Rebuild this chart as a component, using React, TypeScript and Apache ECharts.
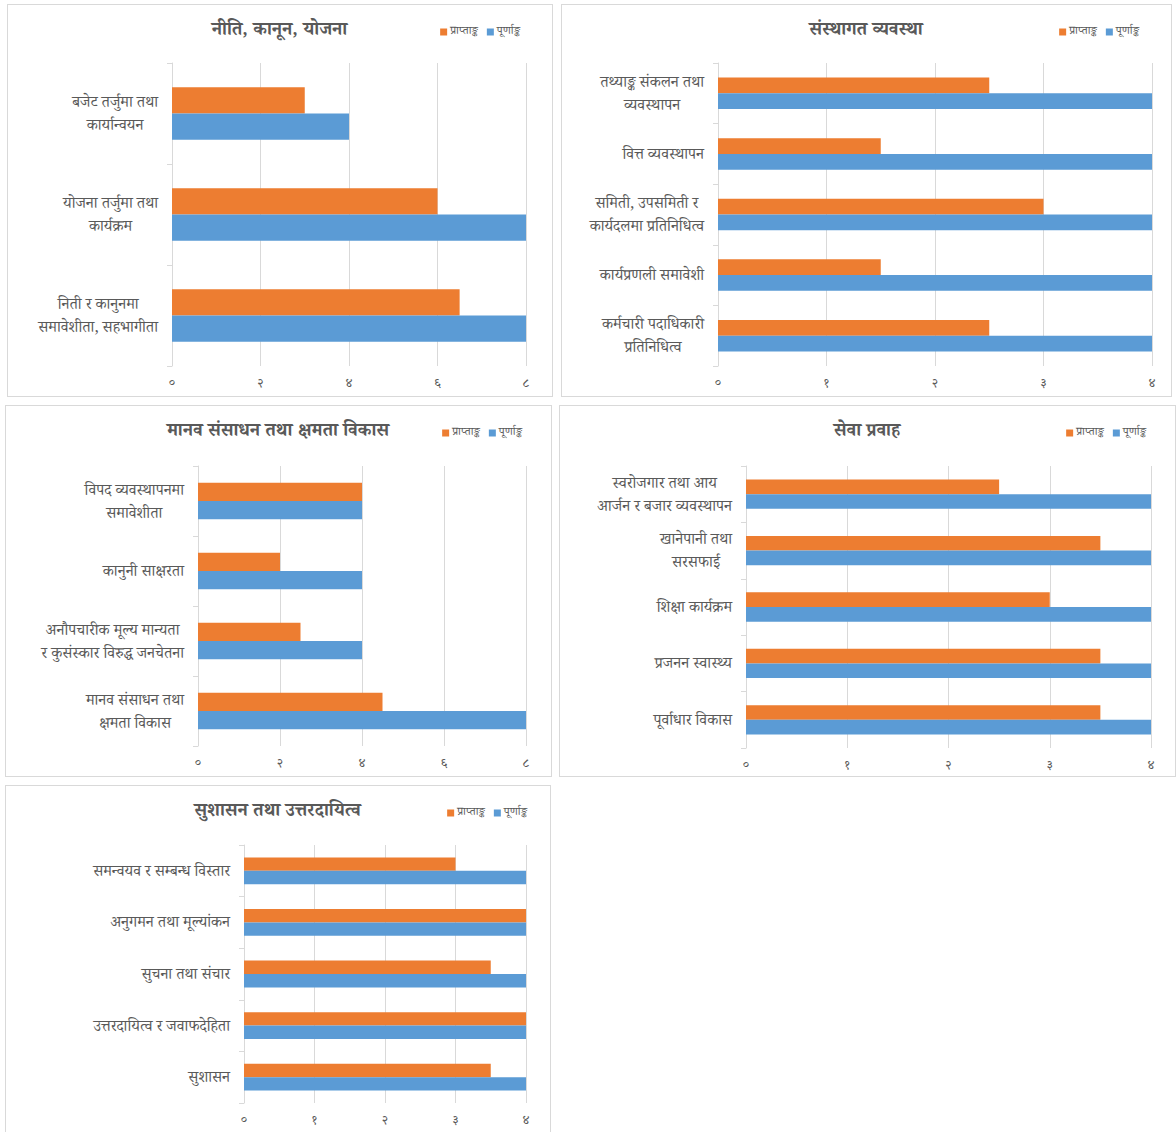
import React, { useEffect, useRef } from "react";
import * as echarts from "echarts";

const SERIES_NAMES = ["प्राप्ताङ्क", "पूर्णाङ्क"];

const p1Title = "नीति, कानून, योजना";
const p1Cats = ["बजेट तर्जुमा तथा\nकार्यान्वयन", "योजना तर्जुमा तथा\nकार्यक्रम", "निती र कानुनमा\nसमावेशीता, सहभागीता"];
const p1Got = [3, 6, 6.5];
const p1Full = [4, 8, 8];

const p2Title = "संस्थागत व्यवस्था";
const p2Cats = ["तथ्याङ्क संकलन तथा\nव्यवस्थापन", "वित्त व्यवस्थापन", "समिती, उपसमिती र\nकार्यदलमा प्रतिनिधित्व", "कार्यप्रणली समावेशी", "कर्मचारी पदाधिकारी\nप्रतिनिधित्व"];
const p2Got = [2.5, 1.5, 3, 1.5, 2.5];
const p2Full = [4, 4, 4, 4, 4];

const p3Title = "मानव संसाधन तथा क्षमता विकास";
const p3Cats = ["विपद व्यवस्थापनमा\nसमावेशीता", "कानुनी साक्षरता", "अनौपचारीक मूल्य मान्यता\nर कुसंस्कार विरुद्ध जनचेतना", "मानव संसाधन तथा\nक्षमता विकास"];
const p3Got = [4, 2, 2.5, 4.5];
const p3Full = [4, 4, 4, 8];

const p4Title = "सेवा प्रवाह";
const p4Cats = ["स्वरोजगार तथा आय\nआर्जन र बजार व्यवस्थापन", "खानेपानी तथा\nसरसफाई", "शिक्षा कार्यक्रम", "प्रजनन स्वास्थ्य", "पूर्वाधार विकास"];
const p4Got = [2.5, 3.5, 3, 3.5, 3.5];
const p4Full = [4, 4, 4, 4, 4];

const p5Title = "सुशासन तथा उत्तरदायित्व";
const p5Cats = ["समन्वयव र सम्बन्ध विस्तार", "अनुगमन तथा मूल्यांकन", "सुचना तथा संचार", "उत्तरदायित्व र जवाफदेहिता", "सुशासन"];
const p5Got = [3, 4, 3.5, 4, 3.5];
const p5Full = [4, 4, 4, 4, 4];

const DEV_DIGITS = ["०", "१", "२", "३", "४", "५", "६", "७", "८", "९"];
const toDev = (v: number) => String(v).replace(/[0-9]/g, (d) => DEV_DIGITS[Number(d)]);

const FONT = "'Noto Serif Devanagari', 'Noto Sans Devanagari', 'Noto Sans', sans-serif";
const GRAY = "#595959";
const LINE = "#d9d9d9";

type Panel = {
  title: string;
  cats: string[];
  got: number[];
  full: number[];
  max: number;
  interval: number;
  box: [number, number, number, number];
  grid: { left: number; right: number; top: number; bottom: number };
  legendRight: number;
};

const panels: Panel[] = [
  { title: p1Title, cats: p1Cats, got: p1Got, full: p1Full, max: 8, interval: 2, box: [7, 4, 546, 393], grid: { left: 164, right: 25, top: 58, bottom: 29 }, legendRight: 26 },
  { title: p2Title, cats: p2Cats, got: p2Got, full: p2Full, max: 4, interval: 1, box: [561, 4, 611, 393], grid: { left: 156, right: 18, top: 58, bottom: 29 }, legendRight: 26 },
  { title: p3Title, cats: p3Cats, got: p3Got, full: p3Full, max: 8, interval: 2, box: [5, 405, 547, 372], grid: { left: 192, right: 24, top: 60, bottom: 29 }, legendRight: 23 },
  { title: p4Title, cats: p4Cats, got: p4Got, full: p4Full, max: 4, interval: 1, box: [559, 405, 617, 372], grid: { left: 186, right: 23, top: 60, bottom: 27 }, legendRight: 23 },
  { title: p5Title, cats: p5Cats, got: p5Got, full: p5Full, max: 4, interval: 1, box: [5, 785, 546, 352], grid: { left: 238, right: 23, top: 59, bottom: 32 }, legendRight: 17 },
];

function buildOption(p: Panel) {
  return {
    animation: false,
    title: {
      text: p.title,
      left: "center",
      top: 13,
      textStyle: { fontFamily: FONT, fontSize: 18.5, fontWeight: "bold", color: GRAY },
    },
    legend: {
      data: SERIES_NAMES,
      right: p.legendRight,
      top: 16,
      itemWidth: 7,
      itemHeight: 7,
      itemGap: 9,
      icon: "rect",
      textStyle: { fontFamily: FONT, fontSize: 11.5, color: GRAY, padding: [0, 0, 0, -2] },
    },
    grid: { ...p.grid, containLabel: false },
    xAxis: {
      type: "value",
      min: 0,
      max: p.max,
      interval: p.interval,
      axisLine: { show: false },
      axisTick: { show: false },
      splitLine: { show: true, lineStyle: { color: LINE, width: 1 } },
      axisLabel: {
        margin: 12,
        color: GRAY,
        fontFamily: FONT,
        fontSize: 13,
        formatter: (v: number) => toDev(v),
      },
    },
    yAxis: {
      type: "category",
      inverse: true,
      data: p.cats,
      axisLine: { show: true, lineStyle: { color: LINE } },
      axisTick: { show: true, length: 5, lineStyle: { color: LINE } },
      axisLabel: {
        margin: 14,
        align: "right",
        padding: [6, 0, 0, 0],
        formatter: (v: string) => v.split("\n").map((l) => `{c|${l}}`).join("\n"),
        rich: {
          c: { align: "center", fontFamily: FONT, fontSize: 15.5, color: GRAY, lineHeight: 23 },
        },
      },
    },
    series: [
      {
        name: SERIES_NAMES[0],
        type: "bar",
        data: p.got,
        barGap: "0%",
        barCategoryGap: "48%",
        itemStyle: { color: "#ED7D31" },
      },
      {
        name: SERIES_NAMES[1],
        type: "bar",
        data: p.full,
        barGap: "0%",
        barCategoryGap: "48%",
        itemStyle: { color: "#5B9BD5" },
      },
    ],
  };
}

function ChartPanel({ p }: { p: Panel }) {
  const ref = useRef<HTMLDivElement>(null);
  useEffect(() => {
    if (!ref.current) return;
    const chart = echarts.init(ref.current, undefined, { renderer: "svg" });
    chart.setOption(buildOption(p) as any);
    return () => chart.dispose();
  }, [p]);
  const [x, y, w, h] = p.box;
  return (
    <div
      style={{
        position: "absolute",
        left: x,
        top: y,
        width: w,
        height: h,
        border: "1.5px solid #d9d9d9",
        boxSizing: "border-box",
        background: "#fff",
      }}
    >
      <div ref={ref} style={{ width: w - 3, height: h - 3 }} />
    </div>
  );
}

export default function App() {
  useEffect(() => {
    document.body.style.margin = "0";
  }, []);
  return (
    <div style={{ position: "relative", width: 1176, height: 1132, background: "#fff", overflow: "hidden" }}>
      {panels.map((p, i) => (
        <ChartPanel key={i} p={p} />
      ))}
    </div>
  );
}
